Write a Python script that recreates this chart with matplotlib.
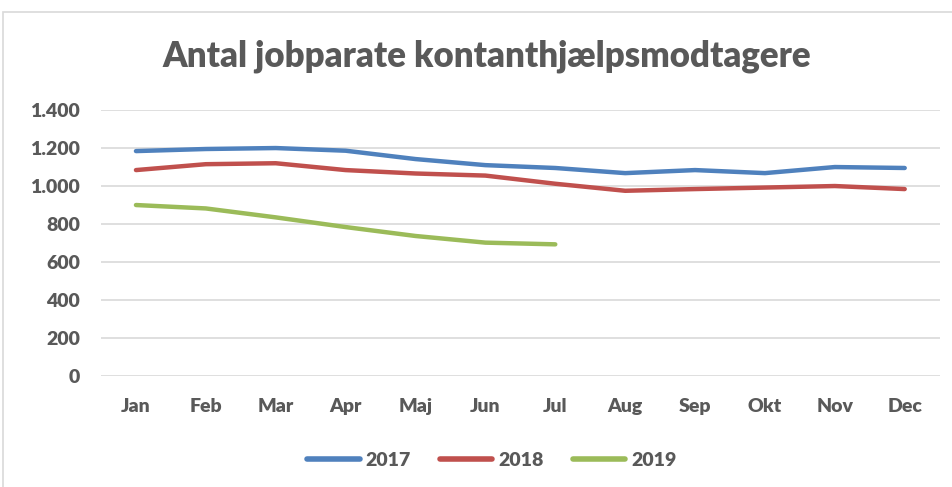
import matplotlib.pyplot as plt
from matplotlib.patches import Rectangle

months = ['Jan', 'Feb', 'Mar', 'Apr', 'Maj', 'Jun', 'Jul', 'Aug', 'Sep', 'Okt', 'Nov', 'Dec']
y2017 = [1184, 1195, 1200, 1186, 1142, 1110, 1095, 1068, 1084, 1068, 1100, 1095]
y2018 = [1084, 1115, 1120, 1084, 1066, 1055, 1012, 975, 984, 992, 1000, 984]
y2019 = [900, 882, 835, 784, 737, 702, 693]
yticks = [0, 200, 400, 600, 800, 1000, 1200, 1400]

txt = '#595959'
plt.rcParams['font.family'] = ['Lato', 'DejaVu Sans']

fig = plt.figure(figsize=(9.53, 4.87), dpi=100)
ax = fig.add_axes([0.106, 0.228, 0.88, 0.546])

# chart border
fig.patches.append(Rectangle((0.003, -0.01), 1.1, 0.985, transform=fig.transFigure,
                             fill=False, edgecolor='#D9D9D9', linewidth=1.2))

x = list(range(len(months)))
ax.plot(x, y2017, color='#4F81BD', lw=3.2, solid_capstyle='round', solid_joinstyle='round', label='2017')
ax.plot(x, y2018, color='#C0504D', lw=3.2, solid_capstyle='round', solid_joinstyle='round', label='2018')
ax.plot(x[:len(y2019)], y2019, color='#9BBB59', lw=3.2, solid_capstyle='round', solid_joinstyle='round', label='2019')

ax.set_xlim(-0.5, len(months) - 0.5)
ax.set_ylim(0, 1400)
ax.set_yticks(yticks)
ax.set_yticklabels([f'{v:,}'.replace(',', '.') for v in yticks])
ax.set_xticks(x)
ax.set_xticklabels(months)
ax.grid(axis='y', color='#D9D9D9', lw=1.2)
ax.set_axisbelow(True)
for s in ax.spines.values():
    s.set_visible(False)
ax.tick_params(length=0, labelsize=14, labelcolor=txt)
ax.tick_params(axis='x', pad=16)
ax.tick_params(axis='y', pad=15)
for lab in ax.get_xticklabels() + ax.get_yticklabels():
    lab.set_fontweight('heavy')

fig.text(0.511, 0.885, 'Antal jobparate kontanthjælpsmodtagere', ha='center', va='center',
         fontsize=25, fontweight='heavy', color=txt)

leg = fig.legend(loc='center', bbox_to_anchor=(0.516, 0.055), ncol=3, frameon=False,
                 prop={'weight': 'heavy', 'size': 14}, handlelength=2.7, columnspacing=1.5,
                 handletextpad=0.3)
for t in leg.get_texts():
    t.set_color(txt)
for h in leg.get_lines():
    h.set_linewidth(4)
    h.set_solid_capstyle('round')

fig.savefig('out.png', dpi=100)
